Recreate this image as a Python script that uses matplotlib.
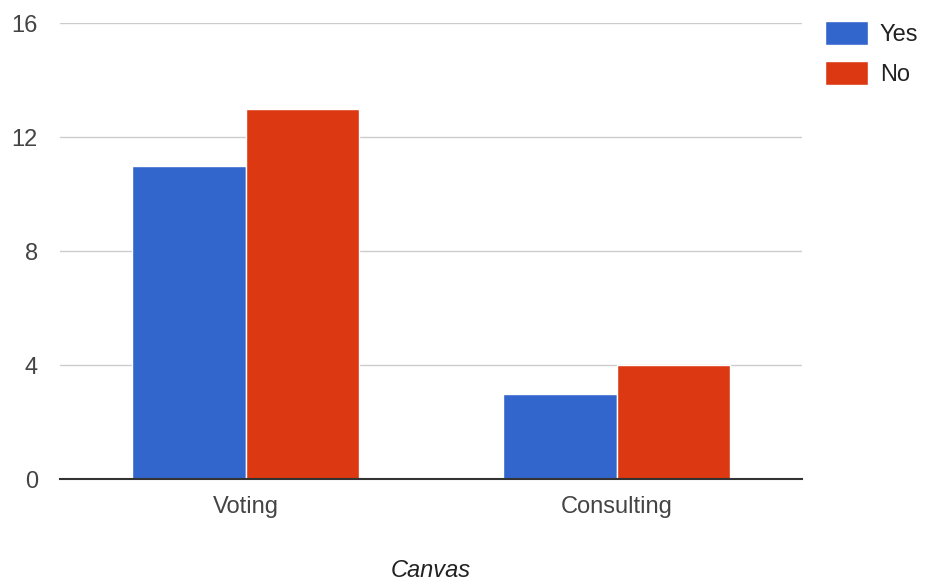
import matplotlib
matplotlib.use("Agg")
import matplotlib.pyplot as plt
import numpy as np

plt.rcParams['font.family'] = ['Liberation Sans', 'DejaVu Sans']

categories = ["Voting", "Consulting"]
series_names = ["Yes", "No"]
yes_values = [11, 3]
no_values = [13, 4]
y_ticks = [0, 4, 8, 12, 16]
x_title = "Canvas"

colors = ["#3366CC", "#DC3912"]

fig = plt.figure(figsize=(9.27, 5.82), dpi=100)
ax = fig.add_axes([60/927, 1 - 479/582, 742/927, 456/582])

x = np.arange(len(categories))
w = 0.307
ax.bar(x - w/2, yes_values, width=w, color=colors[0], edgecolor="white",
       linewidth=1, label=series_names[0], zorder=3)
ax.bar(x + w/2, no_values, width=w, color=colors[1], edgecolor="white",
       linewidth=1, label=series_names[1], zorder=3)

ax.set_xlim(-0.5, 1.5)
ax.set_ylim(0, 16)
ax.set_yticks(y_ticks)
ax.set_xticks(x)
ax.set_xticklabels(categories)
ax.grid(axis="y", color="#cccccc", linewidth=1, zorder=0)
for s in ["left", "right", "top"]:
    ax.spines[s].set_visible(False)
ax.spines["bottom"].set_color("#333333")
ax.spines["bottom"].set_linewidth(1.5)
ax.spines["bottom"].set_zorder(4)
ax.tick_params(axis="both", length=0, labelsize=17, labelcolor="#444444")
ax.tick_params(axis="y", pad=16)
ax.tick_params(axis="x", pad=12)
ax.set_xlabel(x_title, fontsize=17, style="italic", color="#222222", labelpad=30)

leg = ax.legend(loc="upper left", bbox_to_anchor=((816 - 60) / 742, 1.025),
                frameon=False, fontsize=17, handlelength=1.8, handleheight=1.2,
                handletextpad=0.5, labelspacing=0.62, borderaxespad=0)
for t in leg.get_texts():
    t.set_color("#222222")

fig.savefig("out.png", dpi=100)
